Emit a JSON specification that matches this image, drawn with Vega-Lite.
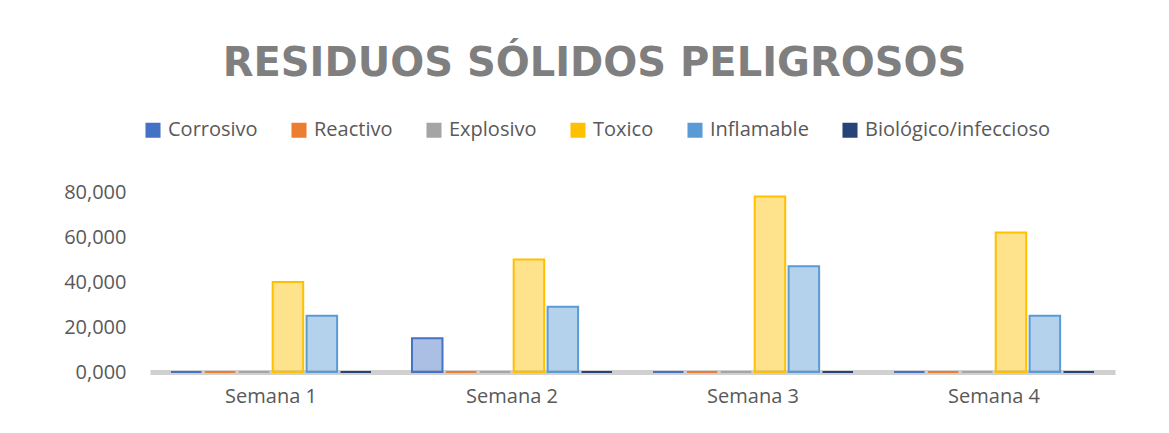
{
  "$schema": "https://vega.github.io/schema/vega-lite/v6.json",
  "autosize": {"type": "none"},
  "padding": {"left": 150, "top": 192, "right": 54, "bottom": 61},
  "width": 965,
  "height": 180,
  "background": "white",
  "title": {
    "text": "RESIDUOS SÓLIDOS PELIGROSOS",
    "font": "DejaVu Sans",
    "fontSize": 40,
    "fontWeight": "bold",
    "color": "#7f7f7f",
    "anchor": "middle",
    "dx": -38,
    "offset": 36
  },
  "config": {
    "locale": {"number": {"decimal": ",", "thousands": ".", "grouping": [3], "currency": ["$", ""]}},
    "view": {"stroke": null},
    "font": "Open Sans"
  },
  "data": {
    "values": [
      {"semana": "Semana 1", "tipo": "Corrosivo", "valor": 0},
      {"semana": "Semana 1", "tipo": "Reactivo", "valor": 0},
      {"semana": "Semana 1", "tipo": "Explosivo", "valor": 0},
      {"semana": "Semana 1", "tipo": "Toxico", "valor": 40},
      {"semana": "Semana 1", "tipo": "Inflamable", "valor": 25},
      {"semana": "Semana 1", "tipo": "Biológico/infeccioso", "valor": 0},
      {"semana": "Semana 2", "tipo": "Corrosivo", "valor": 15},
      {"semana": "Semana 2", "tipo": "Reactivo", "valor": 0},
      {"semana": "Semana 2", "tipo": "Explosivo", "valor": 0},
      {"semana": "Semana 2", "tipo": "Toxico", "valor": 50},
      {"semana": "Semana 2", "tipo": "Inflamable", "valor": 29},
      {"semana": "Semana 2", "tipo": "Biológico/infeccioso", "valor": 0},
      {"semana": "Semana 3", "tipo": "Corrosivo", "valor": 0},
      {"semana": "Semana 3", "tipo": "Reactivo", "valor": 0},
      {"semana": "Semana 3", "tipo": "Explosivo", "valor": 0},
      {"semana": "Semana 3", "tipo": "Toxico", "valor": 78},
      {"semana": "Semana 3", "tipo": "Inflamable", "valor": 47},
      {"semana": "Semana 3", "tipo": "Biológico/infeccioso", "valor": 0},
      {"semana": "Semana 4", "tipo": "Corrosivo", "valor": 0},
      {"semana": "Semana 4", "tipo": "Reactivo", "valor": 0},
      {"semana": "Semana 4", "tipo": "Explosivo", "valor": 0},
      {"semana": "Semana 4", "tipo": "Toxico", "valor": 62},
      {"semana": "Semana 4", "tipo": "Inflamable", "valor": 25},
      {"semana": "Semana 4", "tipo": "Biológico/infeccioso", "valor": 0}
    ]
  },
  "mark": {"type": "bar", "fillOpacity": 0.45, "strokeWidth": 2, "strokeOpacity": 1},
  "encoding": {
    "x": {
      "field": "semana",
      "type": "nominal",
      "scale": {"paddingInner": 0.17, "paddingOuter": 0.087},
      "axis": {
        "title": null,
        "labelAngle": 0,
        "labelFontSize": 20,
        "labelColor": "#595959",
        "labelFont": "Open Sans",
        "ticks": false,
        "labelPadding": 14,
        "domain": true,
        "domainColor": "#d0d0d0",
        "domainWidth": 5
      }
    },
    "xOffset": {
      "field": "tipo",
      "type": "nominal",
      "sort": ["Corrosivo", "Reactivo", "Explosivo", "Toxico", "Inflamable", "Biológico/infeccioso"],
      "scale": {"paddingInner": 0.1}
    },
    "y": {
      "field": "valor",
      "type": "quantitative",
      "scale": {"domain": [0, 80], "nice": false},
      "axis": {
        "title": null,
        "values": [0, 20, 40, 60, 80],
        "format": ".3f",
        "grid": false,
        "domain": false,
        "ticks": false,
        "labelFontSize": 20,
        "labelColor": "#595959",
        "labelFont": "Open Sans",
        "labelPadding": 24
      }
    },
    "color": {
      "field": "tipo",
      "type": "nominal",
      "sort": ["Corrosivo", "Reactivo", "Explosivo", "Toxico", "Inflamable", "Biológico/infeccioso"],
      "scale": {
        "domain": ["Corrosivo", "Reactivo", "Explosivo", "Toxico", "Inflamable", "Biológico/infeccioso"],
        "range": ["#4472C4", "#ED7D31", "#A5A5A5", "#FFC000", "#5B9BD5", "#264478"]
      },
      "legend": {
        "title": null,
        "orient": "none",
        "direction": "horizontal",
        "legendX": -7,
        "legendY": -72,
        "symbolType": "square",
        "symbolSize": 170,
        "symbolStrokeWidth": 2,
        "symbolFillOpacity": 0.5,
        "labelFontSize": 20,
        "labelColor": "#595959",
        "labelFont": "Open Sans",
        "labelOffset": 5,
        "columnPadding": 30,
        "labelLimit": 300
      }
    },
    "stroke": {
      "field": "tipo",
      "type": "nominal",
      "scale": {
        "domain": ["Corrosivo", "Reactivo", "Explosivo", "Toxico", "Inflamable", "Biológico/infeccioso"],
        "range": ["#4472C4", "#ED7D31", "#A5A5A5", "#FFC000", "#5B9BD5", "#264478"]
      },
      "legend": null
    }
  }
}
